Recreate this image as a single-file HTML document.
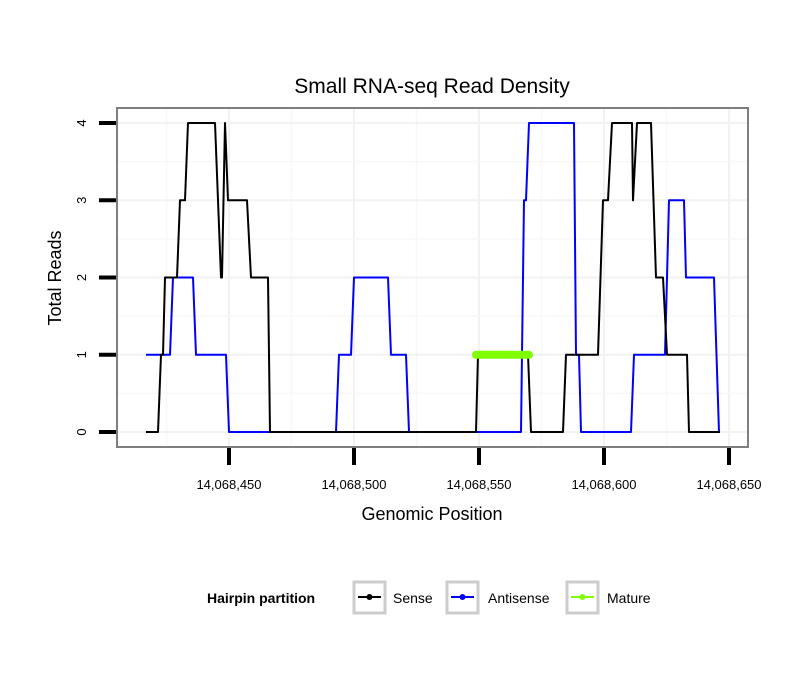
<!DOCTYPE html>
<html><head><meta charset="utf-8"><style>
body{margin:0;background:#fff;}
svg{display:block;font-family:"Liberation Sans",sans-serif;}
</style></head><body>
<svg id="chart" width="810" height="690" viewBox="0 0 810 690">
<rect width="810" height="690" fill="#fff"/>
<text x="432" y="93" text-anchor="middle" font-size="21">Small RNA-seq Read Density</text>
<g id="grid"></g>
<g id="series"></g>
<rect x="117" y="108" width="631" height="339" fill="none" stroke="#7f7f7f" stroke-width="2"/>
<g id="axes"></g>
<text x="432" y="520" text-anchor="middle" font-size="18">Genomic Position</text>
<text transform="translate(61,278) rotate(-90)" text-anchor="middle" font-size="18">Total Reads</text>
<g>
<text x="207" y="603" font-size="14" font-weight="bold">Hairpin partition</text>
<g>
<rect x="354" y="582" width="31" height="31" fill="#fff" stroke="#cccccc" stroke-width="3"/>
<line x1="358" y1="597" x2="381" y2="597" stroke="#000" stroke-width="2"/><circle cx="369.5" cy="597" r="3" fill="#000"/>
<text x="393" y="603" font-size="14">Sense</text></g>
<g>
<rect x="447" y="582" width="31" height="31" fill="#fff" stroke="#cccccc" stroke-width="3"/>
<line x1="451" y1="597" x2="474" y2="597" stroke="#0000ff" stroke-width="2"/><circle cx="462.5" cy="597" r="3" fill="#0000ff"/>
<text x="488" y="603" font-size="14">Antisense</text></g>
<g>
<rect x="567" y="582" width="31" height="31" fill="#fff" stroke="#cccccc" stroke-width="3"/>
<line x1="571" y1="597" x2="594" y2="597" stroke="#7fff00" stroke-width="2"/><circle cx="582.5" cy="597" r="3" fill="#7fff00"/>
<text x="607" y="603" font-size="14">Mature</text></g>
</g>
</svg>
<script>
const xTicks=[14068450,14068500,14068550,14068600,14068650];
const xTickLabels=["14,068,450","14,068,500","14,068,550","14,068,600","14,068,650"];
const yTicks=[0,1,2,3,4];
const senseX=[14068416.8,14068421.6,14068422.8,14068423.6,14068424.4,14068429.2,14068430.4,14068432.4,14068433.6,14068444.4,14068446.8,14068447.2,14068448.4,14068449.6,14068457.2,14068458.8,14068465.6,14068466.4,14068548.8,14068549.6,14068569.6,14068570.8,14068583.6,14068584.8,14068597.6,14068599.6,14068601.6,14068603.2,14068611.2,14068611.6,14068613.2,14068618.8,14068620.8,14068623.6,14068625.2,14068633.2,14068634,14068646.4];
const senseY=[0,0,1,1,2,2,3,3,4,4,2,2,4,3,3,2,2,0,0,1,1,0,0,1,1,3,3,4,4,3,4,4,2,2,1,1,0,0];
const antiX=[14068416.8,14068426.4,14068427.6,14068435.6,14068436.8,14068448.8,14068450,14068492.8,14068494,14068498.8,14068500,14068513.6,14068514.8,14068520.8,14068522,14068566.8,14068568,14068568.8,14068570,14068588,14068588.8,14068590,14068590.8,14068610.8,14068612,14068624.4,14068626,14068632,14068632.8,14068644,14068646];
const antiY=[1,1,2,2,1,1,0,0,1,1,2,2,1,1,0,0,3,3,4,4,1,1,0,0,1,1,3,3,2,2,0];
const matureX=[14068548.8,14068570];
const matureY=[1,1];
const NS="http://www.w3.org/2000/svg";
const X0=117,X1=748,Y0=108,Y1=447;
function sx(v){return 229+(v-14068450)*2.5;}
function sy(v){return 432-v*77.25;}
function mk(tag,attrs,parent){const e=document.createElementNS(NS,tag);for(const k in attrs)e.setAttribute(k,attrs[k]);parent.appendChild(e);return e;}
const grid=document.getElementById('grid'),axes=document.getElementById('axes'),series=document.getElementById('series');
// minor + major grid
for(let i=0;i<xTicks.length;i++){
  const x=sx(xTicks[i]);
  const g=mk('line',{x1:x,x2:x,y1:Y0,y2:Y1,stroke:'#f2f2f2','stroke-width':2},grid);
  
  
  const xm=sx(xTicks[i]-25);
  if(xm>X0){const m=mk('line',{x1:xm,x2:xm,y1:Y0,y2:Y1,stroke:'#f8f8f8','stroke-width':1.5},grid);
  
  }
  const t=mk('line',{x1:x,x2:x,y1:448,y2:465,stroke:'#000','stroke-width':4},axes);
  
  
  const l=mk('text',{x:x,y:489,'text-anchor':'middle','font-size':13},axes);
  l.textContent=xTickLabels[i];
  
  
}
for(let i=0;i<yTicks.length;i++){
  const y=sy(yTicks[i]);
  const g=mk('line',{x1:X0,x2:X1,y1:y,y2:y,stroke:'#f2f2f2','stroke-width':2},grid);
  
  
  if(i<yTicks.length-1){const ym=sy(yTicks[i]+0.5);const m=mk('line',{x1:X0,x2:X1,y1:ym,y2:ym,stroke:'#f8f8f8','stroke-width':1.5},grid);
  
  }
  const t=mk('line',{x1:99,x2:116,y1:y,y2:y,stroke:'#000','stroke-width':4},axes);
  
  
  const l=mk('text',{transform:`translate(86,${y}) rotate(-90)`,'text-anchor':'middle','font-size':13},axes);
  l.textContent=String(yTicks[i]);
  
  
}
function path(xs,ys){return xs.map((v,i)=>(i?'L':'M')+sx(v).toFixed(1)+','+sy(ys[i]).toFixed(1)).join(' ');}
const pa=mk('path',{d:path(antiX,antiY),fill:'none',stroke:'#0000ff','stroke-width':2,'stroke-linejoin':'round'},series);


const ps=mk('path',{d:path(senseX,senseY),fill:'none',stroke:'#000','stroke-width':2,'stroke-linejoin':'round'},series);


const pm=mk('path',{d:path(matureX,matureY),fill:'none',stroke:'#7fff00','stroke-width':8,'stroke-linecap':'round'},series);


</script>
</body></html>
